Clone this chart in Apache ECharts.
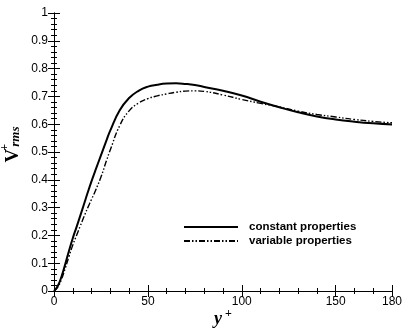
<!DOCTYPE html>
<html>
<head>
<meta charset="utf-8">
<script src="https://cdn.jsdelivr.net/npm/echarts@6/dist/echarts.min.js"></script>
<style>
  html, body { margin: 0; padding: 0; background: #fff; }
  #chart { width: 415px; height: 333px; }
</style>
</head>
<body>
<div id="chart"></div>
<script>
// y+ stations and Vrms+ values
const yPlus = [0, 2, 4, 6, 8, 10, 12, 14, 16, 18, 20, 22, 25, 28, 30, 35, 40, 45, 50, 55, 60, 65, 70, 75, 80, 90, 100, 110, 120, 130, 140, 150, 160, 170, 180];
const constantProps = [0, 0.018, 0.052, 0.097, 0.145, 0.19, 0.23, 0.271, 0.313, 0.355, 0.395, 0.433, 0.488, 0.543, 0.578, 0.65, 0.694, 0.72, 0.735, 0.742, 0.746, 0.747, 0.745, 0.741, 0.734, 0.72, 0.703, 0.681, 0.661, 0.643, 0.628, 0.617, 0.609, 0.603, 0.599];
const variableProps = [0, 0.014, 0.042, 0.082, 0.125, 0.165, 0.2, 0.234, 0.268, 0.3, 0.33, 0.36, 0.41, 0.47, 0.508, 0.595, 0.648, 0.676, 0.692, 0.702, 0.709, 0.715, 0.719, 0.72, 0.718, 0.705, 0.689, 0.675, 0.662, 0.647, 0.635, 0.626, 0.617, 0.61, 0.605];

const seriesNames = ["constant properties", "variable properties"];

const toPairs = (ys) => yPlus.map((x, i) => [x, ys[i]]);

const chart = echarts.init(document.getElementById("chart"));

const tickFont = { color: "#000", fontFamily: "Liberation Sans, Arial, sans-serif", fontSize: 12 };
const serif = "Liberation Serif, Times New Roman, serif";

// shared axis bits (box with inward ticks on all sides)
const xBase = {
  type: "value", min: 0, max: 180, interval: 50,
  axisLine: { show: true, lineStyle: { color: "#000", width: 1 } },
  axisTick: { show: true, inside: true, length: 6, lineStyle: { color: "#000" } },
  minorTick: { show: true, splitNumber: 5, length: 3, lineStyle: { color: "#000" } },
  splitLine: { show: false },
};
const yBase = {
  type: "value", min: 0, max: 1, interval: 0.1,
  axisLine: { show: true, lineStyle: { color: "#000", width: 1 } },
  axisTick: { show: true, inside: true, length: 6, lineStyle: { color: "#000" } },
  minorTick: { show: true, splitNumber: 5, length: 3, lineStyle: { color: "#000" } },
  splitLine: { show: false },
};

chart.setOption({
  animation: false,
  backgroundColor: "#fff",
  grid: { left: 54, top: 13, right: 23, bottom: 42, containLabel: false, outerBoundsMode: "none" },
  legend: {
    orient: "vertical",
    left: 183,
    top: 221,
    padding: 0,
    itemWidth: 54,
    itemHeight: 14,
    itemGap: 2,
    data: seriesNames,
    itemStyle: { color: "rgba(0,0,0,0)", borderColor: "rgba(0,0,0,0)", borderWidth: 0 },
    textStyle: { color: "#000", fontFamily: "Liberation Sans, Arial, sans-serif", fontSize: 11.5, fontWeight: "bold", padding: [0, 0, 0, 6] },
  },
  xAxis: [
    {
      ...xBase,
      position: "bottom",
      axisLabel: { ...tickFont, margin: 5, formatter: (v) => String(v) },
      name: "{y|y}{p|+}",
      nameLocation: "middle",
      nameGap: 17,
      nameMoveOverlap: false,
      nameTextStyle: {
        rich: {
          y: { fontFamily: serif, fontStyle: "italic", fontWeight: "bold", fontSize: 18, color: "#000" },
          p: { fontFamily: serif, fontWeight: "bold", fontSize: 12, color: "#000", padding: [0, 0, 10, 3] },
        },
      },
    },
    { ...xBase, position: "top", axisLabel: { show: false } },
  ],
  yAxis: [
    {
      ...yBase,
      position: "left",
      axisLabel: { ...tickFont, margin: 6, formatter: (v) => (v === 0 ? "0" : v === 1 ? "1" : v.toFixed(1)) },
      name: "{v|V}{p|+}{s|rms}",
      nameLocation: "middle",
      nameRotate: 90,
      nameGap: 27,
      nameMoveOverlap: false,
      nameTextStyle: {
        padding: [0, 0, 0, 15],
        rich: {
          v: { fontFamily: serif, fontWeight: "bold", fontSize: 19, color: "#000" },
          p: { fontFamily: serif, fontWeight: "bold", fontSize: 12, color: "#000", width: 1, padding: [0, 0, 16, 1] },
          s: { fontFamily: serif, fontStyle: "italic", fontWeight: "bold", fontSize: 13, color: "#000", padding: [6, 0, 0, 0] },
        },
      },
    },
    { ...yBase, position: "right", axisLabel: { show: false } },
  ],
  series: [
    {
      name: seriesNames[0],
      type: "line",
      data: toPairs(constantProps),
      smooth: 0.5,
      symbol: "none",
      lineStyle: { color: "#000", width: 2, type: "solid" },
      itemStyle: { color: "#000" },
    },
    {
      name: seriesNames[1],
      type: "line",
      data: toPairs(variableProps),
      smooth: 0.5,
      symbol: "none",
      lineStyle: { color: "#000", width: 1.4, type: [6, 2, 1.5, 2, 1.5, 2] },
      itemStyle: { color: "#000" },
    },
  ],
});
</script>
</body>
</html>
